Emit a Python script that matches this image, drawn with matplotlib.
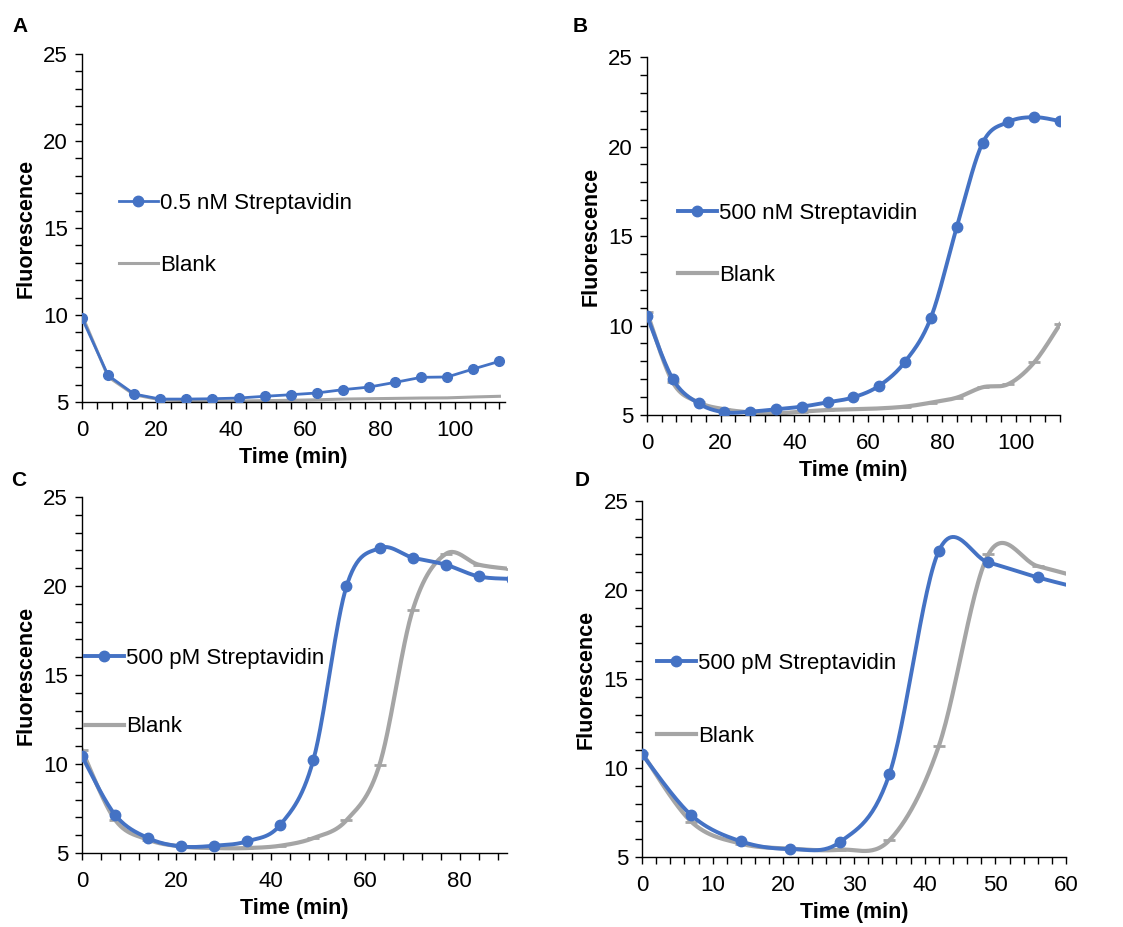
import numpy as np
import matplotlib.pyplot as plt
from matplotlib.lines import Line2D
from matplotlib.ticker import MultipleLocator

plt.rcParams['font.family'] = ['Liberation Sans', 'DejaVu Sans']

BLUE = '#4472C4'
GRAY = '#A5A5A5'

# panel A / B: readings every 7 min
time_ab = [0, 7, 14, 21, 28, 35, 42, 49, 56, 63, 70, 77, 84, 91, 98, 105, 112]
a_strep = [9.83, 6.53, 5.46, 5.17, 5.17, 5.19, 5.23, 5.33, 5.42, 5.52, 5.71, 5.86, 6.13, 6.42, 6.44, 6.90, 7.34]
a_blank = [10.0, 6.45, 5.42, 5.13, 5.08, 5.06, 5.06, 5.08, 5.10, 5.13, 5.17, 5.19, 5.21, 5.23, 5.24, 5.29, 5.33]
b_strep = [10.54, 7.01, 5.65, 5.15, 5.19, 5.32, 5.47, 5.71, 5.99, 6.64, 7.98, 10.44, 15.48, 20.19, 21.37, 21.64, 21.42]
b_blank = [10.74, 6.83, 5.71, 5.32, 5.15, 5.09, 5.19, 5.28, 5.32, 5.37, 5.47, 5.69, 5.97, 6.55, 6.73, 7.94, 10.07]

# panel C
time_c = [0, 7, 14, 21, 28, 35, 42, 49, 56, 63, 70, 77, 84, 91]
c_strep = [10.43, 7.15, 5.84, 5.37, 5.41, 5.66, 6.59, 10.24, 19.98, 22.13, 21.60, 21.20, 20.54, 20.40]
c_blank = [10.77, 6.87, 5.75, 5.37, 5.28, 5.28, 5.41, 5.84, 6.84, 9.96, 18.63, 21.80, 21.20, 20.95]

# panel D
time_d = [0, 7, 14, 21, 28, 35, 42, 49, 56, 63]
d_strep = [10.77, 7.34, 5.88, 5.45, 5.84, 9.65, 22.20, 21.55, 20.71, 20.00]
d_blank = [10.85, 6.97, 5.75, 5.47, 5.41, 5.94, 11.24, 22.00, 21.34, 20.60]


def smooth(x, y, n=30):
    # excel-like smoothed line (bezier through the points)
    p = np.column_stack([x, y]).astype(float)
    pts = [p[0]]
    for i in range(len(p) - 1):
        p0 = p[i - 1] if i > 0 else p[i]
        p3 = p[i + 2] if i + 2 < len(p) else p[i + 1]
        c1 = p[i] + (p[i + 1] - p0) / 6
        c2 = p[i + 1] - (p3 - p[i]) / 6
        t = np.linspace(0, 1, n)[1:, None]
        seg = ((1 - t) ** 3 * p[i] + 3 * (1 - t) ** 2 * t * c1
               + 3 * (1 - t) * t ** 2 * c2 + t ** 3 * p[i + 1])
        pts.extend(seg)
    pts = np.array(pts)
    return pts[:, 0], pts[:, 1]


def setup(ax, xmax, xmajor, xminor, letter, lx, ly):
    ax.set_xlim(0, xmax)
    ax.set_ylim(5, 25)
    ax.xaxis.set_major_locator(MultipleLocator(xmajor))
    ax.xaxis.set_minor_locator(MultipleLocator(xminor))
    ax.yaxis.set_major_locator(MultipleLocator(5))
    ax.yaxis.set_minor_locator(MultipleLocator(1))
    for s in ['top', 'right']:
        ax.spines[s].set_visible(False)
    for s in ['left', 'bottom']:
        ax.spines[s].set_linewidth(1.0)
    ax.tick_params(which='both', direction='out', length=5, width=1, labelsize=16)
    ax.tick_params(axis='x', pad=8)
    ax.tick_params(axis='y', pad=5)
    ax.set_xlabel('Time (min)', fontsize=15.5, fontweight='bold', labelpad=4)
    ax.set_ylabel('Fluorescence', fontsize=15.5, fontweight='bold', labelpad=5)
    fig.text(lx, ly, letter, fontsize=15, fontweight='bold', ha='left', va='top')


def legend(ax, label, lw_b, lw_g, x, y, spacing):
    h = [Line2D([], [], color=BLUE, lw=lw_b, marker='o', markersize=7.5),
         Line2D([], [], color=GRAY, lw=lw_g)]
    ax.legend(h, [label, 'Blank'], loc='center left', bbox_to_anchor=(x, y),
              frameon=False, fontsize=16, handlelength=1.75, handletextpad=0.1,
              labelspacing=spacing, borderpad=0, borderaxespad=0)


def smooth_panel(ax, t, strep, blank):
    sx, sy = smooth(t, blank)
    ax.plot(sx, sy, color=GRAY, lw=3.0, zorder=2)
    ax.plot(t, blank, ls='none', marker='_', color=GRAY, markersize=8, mew=2, zorder=2)
    sx, sy = smooth(t, strep)
    ax.plot(sx, sy, color=BLUE, lw=2.8, zorder=3)
    ax.plot(t, strep, ls='none', marker='o', color=BLUE, markersize=7.5, zorder=3)


fig = plt.figure(figsize=(11.23, 9.27), dpi=100)

ax_a = fig.add_axes([0.0730, 0.5663, 0.3767, 0.3754])
ax_a.plot(time_ab, a_blank, color=GRAY, lw=2.2, zorder=2)
ax_a.plot(time_ab, a_strep, color=BLUE, lw=2.0, marker='o', markersize=7, zorder=3)
setup(ax_a, 113.5, 20, 4, 'A', 0.011, 0.982)
legend(ax_a, '0.5 nM Streptavidin', 2.0, 2.2, 0.087, 0.481, 1.85)

ax_b = fig.add_axes([0.5761, 0.5523, 0.3678, 0.3862])
smooth_panel(ax_b, time_ab, b_strep, b_blank)
setup(ax_b, 112, 20, 4, 'B', 0.510, 0.982)
legend(ax_b, '500 nM Streptavidin', 2.8, 3.0, 0.075, 0.476, 1.85)

ax_c = fig.add_axes([0.0730, 0.0798, 0.3785, 0.3840])
smooth_panel(ax_c, time_c, c_strep, c_blank)
setup(ax_c, 90, 20, 4, 'C', 0.010, 0.492)
legend(ax_c, '500 pM Streptavidin', 2.8, 3.0, 0.007, 0.451, 2.15)

ax_d = fig.add_axes([0.5717, 0.0755, 0.3776, 0.3840])
smooth_panel(ax_d, time_d, d_strep, d_blank)
setup(ax_d, 60, 10, 2, 'D', 0.512, 0.492)
legend(ax_d, '500 pM Streptavidin', 2.8, 3.0, 0.035, 0.441, 2.35)

fig.savefig('out.png', dpi=100)
